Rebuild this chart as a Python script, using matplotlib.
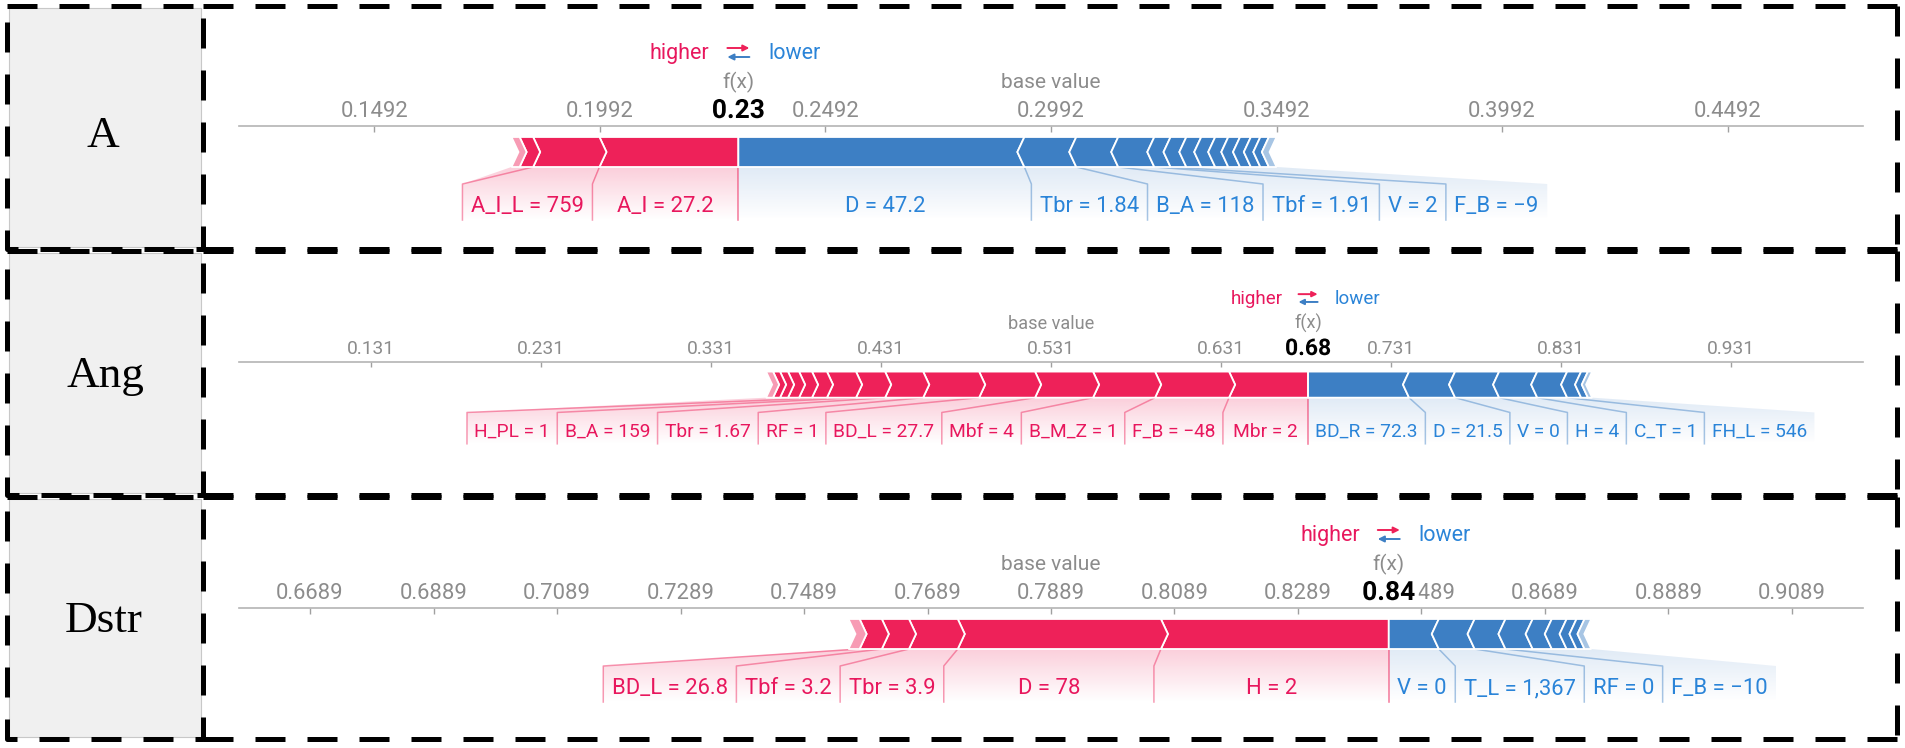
import matplotlib
matplotlib.use("Agg")
import matplotlib.pyplot as plt
import matplotlib.patheffects as pe
from matplotlib.patches import Polygon, Rectangle
from matplotlib.colors import to_rgb, to_rgba
import numpy as np

plt.rcParams['font.family'] = ['Roboto', 'DejaVu Sans']

# ---------------- data ----------------
panel_names = ["A", "Ang", "Dstr"]

A_base = 0.2992
A_fx = 0.2299
A_fx_text = "0.23"
A_ticks = [0.1492, 0.1992, 0.2492, 0.2992, 0.3492, 0.3992, 0.4492]
A_tick_labels = ["0.1492", "0.1992", "0.2492", "0.2992", "0.3492", "0.3992", "0.4492"]
A_pos_labels = ["A_I = 27.2", "A_I_L = 759", "", ""]
A_pos_shap = [0.0308, 0.0147, 0.0030, 0.0018]
A_neg_labels = ["D = 47.2", "Tbr = 1.84", "B_A = 118", "Tbf = 1.91", "V = 2", "F_B = \u22129",
                "", "", "", "", "", "", "", ""]
A_neg_shap = [0.0634, 0.0115, 0.0093, 0.0080, 0.0036, 0.0035, 0.0033, 0.0031,
              0.0029, 0.0026, 0.0024, 0.0021, 0.0019, 0.0017]

Ang_base = 0.531
Ang_fx = 0.6822
Ang_fx_text = "0.68"
Ang_ticks = [0.131, 0.231, 0.331, 0.431, 0.531, 0.631, 0.731, 0.831, 0.931]
Ang_tick_labels = ["0.131", "0.231", "0.331", "0.431", "0.531", "0.631", "0.731", "0.831", "0.931"]
Ang_pos_labels = ["Mbr = 2", "F_B = \u221248", "B_M_Z = 1", "Mbf = 4", "BD_L = 27.7", "RF = 1",
                  "Tbr = 1.67", "B_A = 159", "H_PL = 1", "", "", "", "", "", ""]
Ang_pos_shap = [0.0465, 0.0435, 0.0365, 0.0341, 0.0329, 0.0329, 0.0224, 0.0171, 0.0171,
                0.0088, 0.0076, 0.0065, 0.0047, 0.0041, 0.0041]
Ang_neg_labels = ["BD_R = 72.3", "D = 21.5", "V = 0", "H = 4", "C_T = 1", "FH_L = 546", "", ""]
Ang_neg_shap = [0.0594, 0.0271, 0.0259, 0.0224, 0.0176, 0.0082, 0.0040, 0.0025]

Dstr_base = 0.7889
Dstr_fx = 0.8436
Dstr_fx_text = "0.84"
Dstr_ticks = [0.6689, 0.6889, 0.7089, 0.7289, 0.7489, 0.7689, 0.7889,
              0.8089, 0.8289, 0.8489, 0.8689, 0.8889, 0.9089]
Dstr_tick_labels = ["0.6689", "0.6889", "0.7089", "0.7289", "0.7489", "0.7689", "0.7889",
                    "0.8089", "0.8289", "0.8489", "0.8689", "0.8889", "0.9089"]
Dstr_pos_labels = ["H = 2", "D = 78", "Tbr = 3.9", "Tbf = 3.2", "BD_L = 26.8", ""]
Dstr_pos_shap = [0.0369, 0.0329, 0.0079, 0.0044, 0.0036, 0.0018]
Dstr_neg_labels = ["V = 0", "T_L = 1,367", "RF = 0", "F_B = \u221210", "", "", "", "", ""]
Dstr_neg_shap = [0.0081, 0.0058, 0.0050, 0.0044, 0.0031, 0.0024, 0.0016, 0.0013, 0.0011]

# ---------------- layout / style ----------------
W, H = 1905, 748
RED = '#ee2159'
BLUE = '#3d7fc4'
RED_T = '#e8175d'
BLUE_T = '#2a84d8'
GRAY = '#8c8c8c'
AX_L, AX_R = 239, 1863
# (top, bottom, axis-line y, scale, half x-range)
rows = [(6, 249, 126, 1.0, 0.180),
        (251, 495, 362, 0.87, 0.4776),
        (497, 739, 608, 1.0, 0.1315)]
name_pos = [(103, 147), (105, 387), (104, 632)]

fig = plt.figure(figsize=(W / 100, H / 100), dpi=100)
renderer = fig.canvas.get_renderer()
bg = fig.add_axes([0, 0, 1, 1])
bg.set_xlim(0, W)
bg.set_ylim(H, 0)
bg.axis('off')

dash = (0, (6, 4.4))
for (top, bot, _, _, _), name, (nx, ny) in zip(rows, panel_names, name_pos):
    bg.add_patch(Rectangle((9, top + 2), 192, bot - top - 4, fc='#f0f0f0', ec='#c8c8c8', lw=0.8))
    kw = dict(color='black', lw=3.6, linestyle=dash, solid_capstyle='butt', dash_capstyle='butt')
    bg.plot([7, 203, 203, 7, 7], [top, top, bot, bot, top], **kw)
    bg.plot([203, 1897], [top, top], **kw)
    bg.plot([1897, 1897], [top, bot], **kw)
    bg.plot([203, 1897], [bot, bot], **kw)
    bg.text(nx, ny, name, fontfamily='Liberation Serif', fontsize=32.5, ha='center',
            va='baseline', color='black')


def text_width(ax, s, size):
    t = ax.text(0, 0, s, fontsize=size)
    w = t.get_window_extent(renderer).width
    t.remove()
    return w


def gradient_poly(ax, pts, color, y0, y1, amax):
    poly = Polygon(pts, closed=True, transform=ax.transData, fc='none', ec='none')
    xs = [p[0] for p in pts]
    n = 64
    rgba = np.zeros((n, 1, 4))
    rgba[..., :3] = to_rgb(color)
    rgba[:, 0, 3] = np.linspace(amax, 0.0, n)
    im = ax.imshow(rgba, extent=[min(xs), max(xs), y1, y0], origin='upper',
                   aspect='auto', zorder=1, interpolation='bilinear')
    im.set_clip_path(poly)


def draw_panel(row, base, fx, fx_text, ticks, tick_labels,
               pos_labels, pos_shap, neg_labels, neg_shap):
    top, bot, axis_y, s, half = row
    ax = fig.add_axes([AX_L / W, 1 - bot / H, (AX_R - AX_L) / W, (bot - top) / H])
    ax.patch.set_visible(False)
    xmin, xmax = base - half, base + half
    ppu = (AX_R - AX_L) / (xmax - xmin)
    d = lambda px: px / ppu
    to_px = lambda x: (x - xmin) * ppu
    to_x = lambda px: xmin + px / ppu

    bt, bb = 11 * s, 41 * s
    bm = (bt + bb) / 2
    tip = d(7 * s)
    ylink = bb + 17 * s
    ylab = 94 * s
    gap = 17 * s
    fs_lab = 15.8 * s

    # ---- red (positive) segments, stacked leftwards from f(x)
    segs_pos = []
    xr = fx
    for i, v in enumerate(pos_shap):
        x0, x1 = xr - v, xr
        segs_pos.append((x0, x1))
        pts = [(x0, bt), (x1, bt)]
        if i > 0:
            pts.append((x1 + tip, bm))
        pts += [(x1, bb), (x0, bb), (x0 + tip, bm)]
        a = 0.45 if i == len(pos_shap) - 1 else 1.0
        ax.add_patch(Polygon(pts, closed=True, fc=to_rgba(RED, a), ec='white', lw=1.3, zorder=3))
        xr = x0
    red_end = xr

    # ---- blue (negative) segments, stacked rightwards from f(x)
    segs_neg = []
    xl = fx
    for i, v in enumerate(neg_shap):
        x0, x1 = xl, xl + v
        segs_neg.append((x0, x1))
        pts = [(x0, bt), (x1, bt), (x1 - tip, bm), (x1, bb), (x0, bb)]
        if i > 0:
            pts.append((x0 - tip, bm))
        a = 0.45 if i == len(neg_shap) - 1 else 1.0
        ax.add_patch(Polygon(pts, closed=True, fc=to_rgba(BLUE, a), ec='white', lw=1.3, zorder=3))
        xl = x1
    blue_end = xl

    fx_px = to_px(fx)

    # ---- red labels
    lab_idx = [i for i, l in enumerate(pos_labels) if l]
    prev_left = fx_px + gap / 2
    for k, i in enumerate(lab_idx):
        x0, x1 = segs_pos[i]
        tw = max(text_width(ax, pos_labels[i], fs_lab), (x1 - x0) * ppu - 10 * s)
        right = (to_px(x0) + to_px(x1)) / 2 + tw / 2
        right = min(right, prev_left - gap)
        left = right - tw
        inner = fx_px if k == 0 else right + gap / 2
        outer = left - gap / 2
        seg_outer = to_px(red_end) if k == len(lab_idx) - 1 else to_px(x0)
        pts = [(to_x(seg_outer), bb), (x1, bb), (to_x(inner), ylink), (to_x(inner), ylab),
               (to_x(outer), ylab), (to_x(outer), ylink)]
        gradient_poly(ax, pts, RED, bb, ylab, 0.22)
        ax.plot([x0, to_x(outer), to_x(outer)], [bb, ylink, ylab], color=RED, alpha=0.45,
                lw=1.1, zorder=2)
        ax.text(to_x((left + right) / 2), 86 * s, pos_labels[i], ha='center', va='baseline',
                fontsize=fs_lab, color=RED_T, zorder=5)
        prev_left = left

    # ---- blue labels
    lab_idx = [i for i, l in enumerate(neg_labels) if l]
    prev_right = fx_px - gap / 2
    for k, i in enumerate(lab_idx):
        x0, x1 = segs_neg[i]
        tw = max(text_width(ax, neg_labels[i], fs_lab), (x1 - x0) * ppu - 10 * s)
        left = (to_px(x0) + to_px(x1)) / 2 - tw / 2
        left = max(left, prev_right + gap)
        right = left + tw
        inner = fx_px if k == 0 else left - gap / 2
        outer = right + gap / 2
        seg_outer = to_px(blue_end) if k == len(lab_idx) - 1 else to_px(x1)
        pts = [(x0, bb), (to_x(seg_outer), bb), (to_x(outer), ylink), (to_x(outer), ylab),
               (to_x(inner), ylab), (to_x(inner), ylink)]
        gradient_poly(ax, pts, BLUE, bb, ylab, 0.16)
        if k > 0:
            ax.plot([x0, to_x(inner), to_x(inner)], [bb, ylink, ylab], color=BLUE, alpha=0.45,
                    lw=1.1, zorder=2)
        ax.text(to_x((left + right) / 2), 86 * s, neg_labels[i], ha='center', va='baseline',
                fontsize=fs_lab, color=BLUE_T, zorder=5)
        prev_right = right

    # f(x) divider line below bar
    ax.plot([fx, fx], [bb, ylab], color=RED, alpha=0.6, lw=1.1, zorder=2)

    # ---- axis
    for sp in ['left', 'right', 'bottom']:
        ax.spines[sp].set_visible(False)
    ax.spines['top'].set_position(('data', 0))
    ax.spines['top'].set_color('#b4b4b4')
    ax.spines['top'].set_linewidth(1.2)
    ax.set_xticks(ticks)
    ax.set_yticks([])
    ax.tick_params(axis='x', top=True, bottom=False, labeltop=False, labelbottom=False,
                   direction='in', length=4 * s, width=1, color='#a0a0a0')
    for t, tl in zip(ticks, tick_labels):
        ax.text(t, -9 * s, tl, ha='center', va='baseline', fontsize=15.8 * s, color=GRAY, zorder=4)

    ax.text(base, -38 * s, 'base value', ha='center', va='baseline', fontsize=15 * s, color=GRAY)
    ax.text(fx, -38 * s, 'f(x)', ha='center', va='baseline', fontsize=15 * s, color=GRAY)
    ax.text(fx, -8 * s, fx_text, ha='center', va='baseline', fontsize=19 * s, weight='bold',
            color='black', zorder=7,
            path_effects=[pe.withStroke(linewidth=6, foreground='white')])

    ax.text(fx - d(29 * s), -67 * s, 'higher', ha='right', va='baseline', fontsize=15.5 * s,
            color=RED_T)
    ax.text(fx + d(30 * s), -67 * s, 'lower', ha='left', va='baseline', fontsize=15.5 * s,
            color=BLUE_T)
    ax.annotate('', xy=(fx + d(11 * s), -78 * s), xytext=(fx - d(11 * s), -78 * s),
                arrowprops=dict(arrowstyle='-|>', color=RED, lw=1.4, mutation_scale=9 * s,
                                shrinkA=0, shrinkB=0))
    ax.annotate('', xy=(fx - d(11 * s), -69 * s), xytext=(fx + d(11 * s), -69 * s),
                arrowprops=dict(arrowstyle='-|>', color=BLUE, lw=1.4, mutation_scale=9 * s,
                                shrinkA=0, shrinkB=0))

    ax.set_xlim(xmin, xmax)
    ax.set_ylim(bot - axis_y, top - axis_y)


draw_panel(rows[0], A_base, A_fx, A_fx_text, A_ticks, A_tick_labels,
           A_pos_labels, A_pos_shap, A_neg_labels, A_neg_shap)
draw_panel(rows[1], Ang_base, Ang_fx, Ang_fx_text, Ang_ticks, Ang_tick_labels,
           Ang_pos_labels, Ang_pos_shap, Ang_neg_labels, Ang_neg_shap)
draw_panel(rows[2], Dstr_base, Dstr_fx, Dstr_fx_text, Dstr_ticks, Dstr_tick_labels,
           Dstr_pos_labels, Dstr_pos_shap, Dstr_neg_labels, Dstr_neg_shap)

fig.savefig('out.png', dpi=100)
